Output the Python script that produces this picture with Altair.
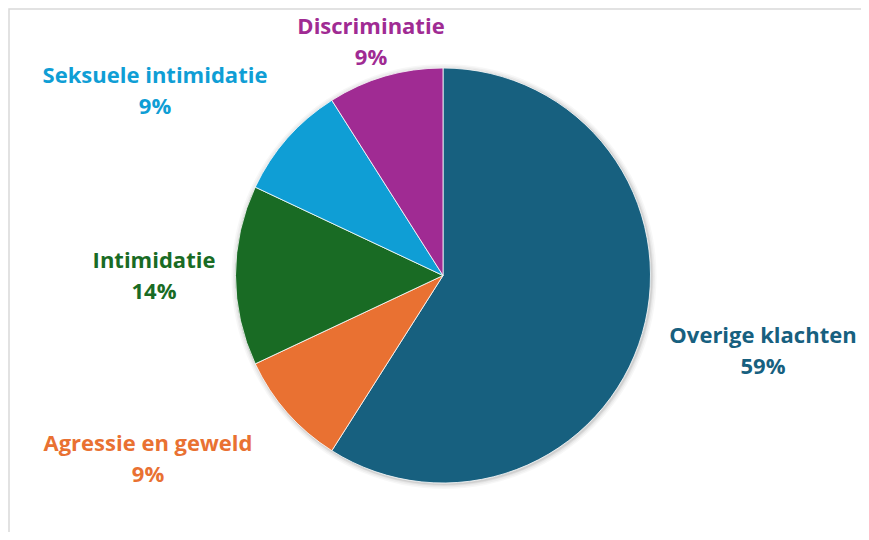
import altair as alt
import pandas as pd

categories = ["Overige klachten", "Agressie en geweld", "Intimidatie", "Seksuele intimidatie", "Discriminatie"]
values = [59, 9, 14, 9, 9]
labels = ["59%", "9%", "14%", "9%", "9%"]
colors = ["#17607F", "#E97132", "#196B24", "#0F9ED5", "#A02B93"]

df = pd.DataFrame({"cat": categories, "val": values, "lab": labels, "ord": list(range(len(categories)))})

# label anchor positions in pixel space (chart coords)
lab_x = [755, 140, 146, 147, 363]
lab_y = [328, 436, 253, 68, 19]
df["lx"] = lab_x
df["ly"] = lab_y

W, H = 853, 524
CX, CY, R = 435, 267.5, 207.5

color = alt.Color("cat:N", scale=alt.Scale(domain=categories, range=colors), legend=None)

one = pd.DataFrame({"a": [1]})
shadows = [
    alt.Chart(one).mark_arc(color="#000000", outerRadius=R + dr, opacity=op, theta=0, theta2=6.2832).encode(
        x=alt.value(CX + 1), y=alt.value(CY + 1)
    )
    for dr, op in [(5, 0.03), (3.5, 0.04), (2, 0.05), (1, 0.07)]
]

pie = alt.Chart(df).mark_arc(outerRadius=R, stroke="white", strokeWidth=0.8).encode(
    theta=alt.Theta("val:Q", stack=True),
    order=alt.Order("ord:Q"),
    color=color,
    x=alt.value(CX), y=alt.value(CY),
)

FS = 22
txt1 = alt.Chart(df).mark_text(font="Open Sans", fontWeight="bold", fontSize=FS, align="center", baseline="middle").encode(
    x=alt.X("lx:Q", scale=None), y=alt.Y("ly:Q", scale=None), text="cat:N", color=color,
)
txt2 = alt.Chart(df).mark_text(font="Open Sans", fontWeight="bold", fontSize=FS, align="center", baseline="middle", dy=31).encode(
    x=alt.X("lx:Q", scale=None), y=alt.Y("ly:Q", scale=None), text="lab:N", color=color,
)

frame = alt.Chart(one).mark_rect(fill="white", stroke="#D9D9D9", strokeWidth=1.5).encode(
    x=alt.value(1), x2=alt.value(W + 20), y=alt.value(1), y2=alt.value(H + 20),
)

chart = alt.layer(frame, *shadows, pie, txt1, txt2).properties(
    width=W, height=H, padding=0, autosize=alt.AutoSizeParams(type="none"),
).configure_view(stroke=None)

chart.save("out.html", embed_options={"renderer": "svg", "actions": False})
